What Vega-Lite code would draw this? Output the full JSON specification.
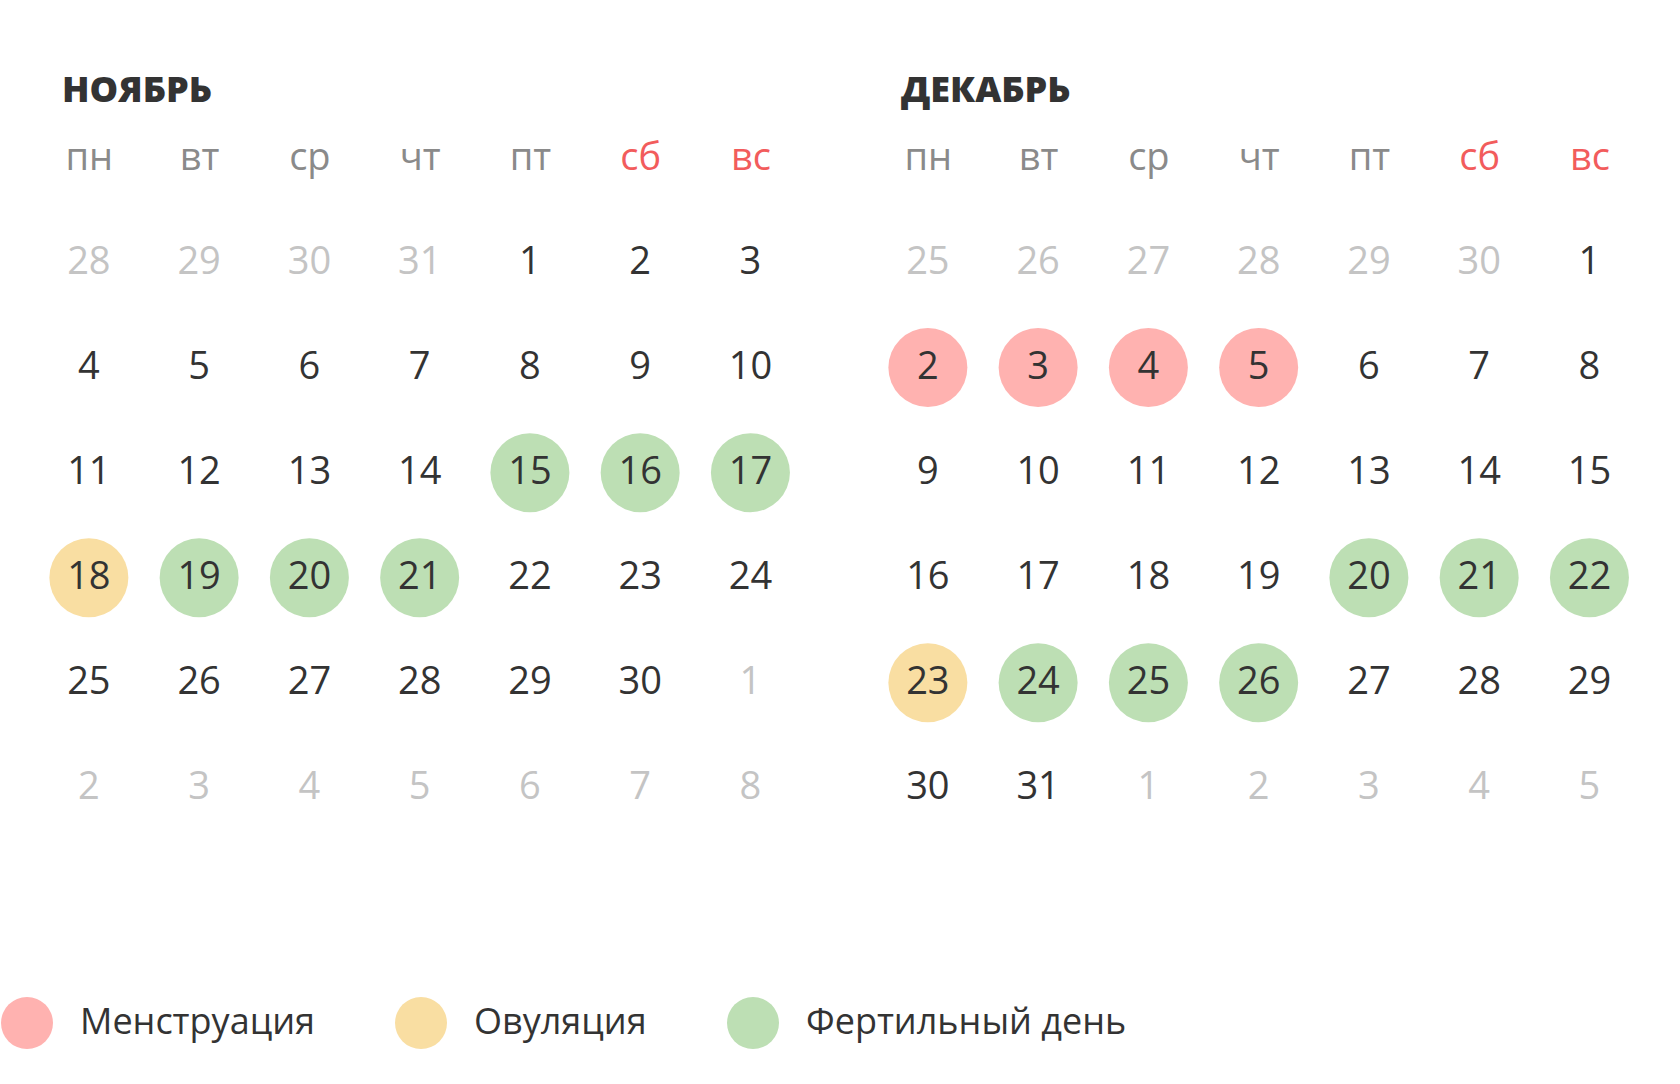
{
  "$schema": "https://vega.github.io/schema/vega-lite/v6.json",
  "background": "white",
  "padding": {"left": 1, "top": 73, "right": 0, "bottom": 0},
  "config": {"view": {"stroke": null}, "font": "Open Sans"},
  "data": {"values": [
    {"m":"НОЯБРЬ","w":1,"wd":"пн","d":28,"c":0,"s":""},
    {"m":"НОЯБРЬ","w":1,"wd":"вт","d":29,"c":0,"s":""},
    {"m":"НОЯБРЬ","w":1,"wd":"ср","d":30,"c":0,"s":""},
    {"m":"НОЯБРЬ","w":1,"wd":"чт","d":31,"c":0,"s":""},
    {"m":"НОЯБРЬ","w":1,"wd":"пт","d":1,"c":1,"s":""},
    {"m":"НОЯБРЬ","w":1,"wd":"сб","d":2,"c":1,"s":""},
    {"m":"НОЯБРЬ","w":1,"wd":"вс","d":3,"c":1,"s":""},
    {"m":"НОЯБРЬ","w":2,"wd":"пн","d":4,"c":1,"s":""},
    {"m":"НОЯБРЬ","w":2,"wd":"вт","d":5,"c":1,"s":""},
    {"m":"НОЯБРЬ","w":2,"wd":"ср","d":6,"c":1,"s":""},
    {"m":"НОЯБРЬ","w":2,"wd":"чт","d":7,"c":1,"s":""},
    {"m":"НОЯБРЬ","w":2,"wd":"пт","d":8,"c":1,"s":""},
    {"m":"НОЯБРЬ","w":2,"wd":"сб","d":9,"c":1,"s":""},
    {"m":"НОЯБРЬ","w":2,"wd":"вс","d":10,"c":1,"s":""},
    {"m":"НОЯБРЬ","w":3,"wd":"пн","d":11,"c":1,"s":""},
    {"m":"НОЯБРЬ","w":3,"wd":"вт","d":12,"c":1,"s":""},
    {"m":"НОЯБРЬ","w":3,"wd":"ср","d":13,"c":1,"s":""},
    {"m":"НОЯБРЬ","w":3,"wd":"чт","d":14,"c":1,"s":""},
    {"m":"НОЯБРЬ","w":3,"wd":"пт","d":15,"c":1,"s":"Фертильный день"},
    {"m":"НОЯБРЬ","w":3,"wd":"сб","d":16,"c":1,"s":"Фертильный день"},
    {"m":"НОЯБРЬ","w":3,"wd":"вс","d":17,"c":1,"s":"Фертильный день"},
    {"m":"НОЯБРЬ","w":4,"wd":"пн","d":18,"c":1,"s":"Овуляция"},
    {"m":"НОЯБРЬ","w":4,"wd":"вт","d":19,"c":1,"s":"Фертильный день"},
    {"m":"НОЯБРЬ","w":4,"wd":"ср","d":20,"c":1,"s":"Фертильный день"},
    {"m":"НОЯБРЬ","w":4,"wd":"чт","d":21,"c":1,"s":"Фертильный день"},
    {"m":"НОЯБРЬ","w":4,"wd":"пт","d":22,"c":1,"s":""},
    {"m":"НОЯБРЬ","w":4,"wd":"сб","d":23,"c":1,"s":""},
    {"m":"НОЯБРЬ","w":4,"wd":"вс","d":24,"c":1,"s":""},
    {"m":"НОЯБРЬ","w":5,"wd":"пн","d":25,"c":1,"s":""},
    {"m":"НОЯБРЬ","w":5,"wd":"вт","d":26,"c":1,"s":""},
    {"m":"НОЯБРЬ","w":5,"wd":"ср","d":27,"c":1,"s":""},
    {"m":"НОЯБРЬ","w":5,"wd":"чт","d":28,"c":1,"s":""},
    {"m":"НОЯБРЬ","w":5,"wd":"пт","d":29,"c":1,"s":""},
    {"m":"НОЯБРЬ","w":5,"wd":"сб","d":30,"c":1,"s":""},
    {"m":"НОЯБРЬ","w":5,"wd":"вс","d":1,"c":0,"s":""},
    {"m":"НОЯБРЬ","w":6,"wd":"пн","d":2,"c":0,"s":""},
    {"m":"НОЯБРЬ","w":6,"wd":"вт","d":3,"c":0,"s":""},
    {"m":"НОЯБРЬ","w":6,"wd":"ср","d":4,"c":0,"s":""},
    {"m":"НОЯБРЬ","w":6,"wd":"чт","d":5,"c":0,"s":""},
    {"m":"НОЯБРЬ","w":6,"wd":"пт","d":6,"c":0,"s":""},
    {"m":"НОЯБРЬ","w":6,"wd":"сб","d":7,"c":0,"s":""},
    {"m":"НОЯБРЬ","w":6,"wd":"вс","d":8,"c":0,"s":""},
    {"m":"ДЕКАБРЬ","w":1,"wd":"пн","d":25,"c":0,"s":""},
    {"m":"ДЕКАБРЬ","w":1,"wd":"вт","d":26,"c":0,"s":""},
    {"m":"ДЕКАБРЬ","w":1,"wd":"ср","d":27,"c":0,"s":""},
    {"m":"ДЕКАБРЬ","w":1,"wd":"чт","d":28,"c":0,"s":""},
    {"m":"ДЕКАБРЬ","w":1,"wd":"пт","d":29,"c":0,"s":""},
    {"m":"ДЕКАБРЬ","w":1,"wd":"сб","d":30,"c":0,"s":""},
    {"m":"ДЕКАБРЬ","w":1,"wd":"вс","d":1,"c":1,"s":""},
    {"m":"ДЕКАБРЬ","w":2,"wd":"пн","d":2,"c":1,"s":"Менструация"},
    {"m":"ДЕКАБРЬ","w":2,"wd":"вт","d":3,"c":1,"s":"Менструация"},
    {"m":"ДЕКАБРЬ","w":2,"wd":"ср","d":4,"c":1,"s":"Менструация"},
    {"m":"ДЕКАБРЬ","w":2,"wd":"чт","d":5,"c":1,"s":"Менструация"},
    {"m":"ДЕКАБРЬ","w":2,"wd":"пт","d":6,"c":1,"s":""},
    {"m":"ДЕКАБРЬ","w":2,"wd":"сб","d":7,"c":1,"s":""},
    {"m":"ДЕКАБРЬ","w":2,"wd":"вс","d":8,"c":1,"s":""},
    {"m":"ДЕКАБРЬ","w":3,"wd":"пн","d":9,"c":1,"s":""},
    {"m":"ДЕКАБРЬ","w":3,"wd":"вт","d":10,"c":1,"s":""},
    {"m":"ДЕКАБРЬ","w":3,"wd":"ср","d":11,"c":1,"s":""},
    {"m":"ДЕКАБРЬ","w":3,"wd":"чт","d":12,"c":1,"s":""},
    {"m":"ДЕКАБРЬ","w":3,"wd":"пт","d":13,"c":1,"s":""},
    {"m":"ДЕКАБРЬ","w":3,"wd":"сб","d":14,"c":1,"s":""},
    {"m":"ДЕКАБРЬ","w":3,"wd":"вс","d":15,"c":1,"s":""},
    {"m":"ДЕКАБРЬ","w":4,"wd":"пн","d":16,"c":1,"s":""},
    {"m":"ДЕКАБРЬ","w":4,"wd":"вт","d":17,"c":1,"s":""},
    {"m":"ДЕКАБРЬ","w":4,"wd":"ср","d":18,"c":1,"s":""},
    {"m":"ДЕКАБРЬ","w":4,"wd":"чт","d":19,"c":1,"s":""},
    {"m":"ДЕКАБРЬ","w":4,"wd":"пт","d":20,"c":1,"s":"Фертильный день"},
    {"m":"ДЕКАБРЬ","w":4,"wd":"сб","d":21,"c":1,"s":"Фертильный день"},
    {"m":"ДЕКАБРЬ","w":4,"wd":"вс","d":22,"c":1,"s":"Фертильный день"},
    {"m":"ДЕКАБРЬ","w":5,"wd":"пн","d":23,"c":1,"s":"Овуляция"},
    {"m":"ДЕКАБРЬ","w":5,"wd":"вт","d":24,"c":1,"s":"Фертильный день"},
    {"m":"ДЕКАБРЬ","w":5,"wd":"ср","d":25,"c":1,"s":"Фертильный день"},
    {"m":"ДЕКАБРЬ","w":5,"wd":"чт","d":26,"c":1,"s":"Фертильный день"},
    {"m":"ДЕКАБРЬ","w":5,"wd":"пт","d":27,"c":1,"s":""},
    {"m":"ДЕКАБРЬ","w":5,"wd":"сб","d":28,"c":1,"s":""},
    {"m":"ДЕКАБРЬ","w":5,"wd":"вс","d":29,"c":1,"s":""},
    {"m":"ДЕКАБРЬ","w":6,"wd":"пн","d":30,"c":1,"s":""},
    {"m":"ДЕКАБРЬ","w":6,"wd":"вт","d":31,"c":1,"s":""},
    {"m":"ДЕКАБРЬ","w":6,"wd":"ср","d":1,"c":0,"s":""},
    {"m":"ДЕКАБРЬ","w":6,"wd":"чт","d":2,"c":0,"s":""},
    {"m":"ДЕКАБРЬ","w":6,"wd":"пт","d":3,"c":0,"s":""},
    {"m":"ДЕКАБРЬ","w":6,"wd":"сб","d":4,"c":0,"s":""},
    {"m":"ДЕКАБРЬ","w":6,"wd":"вс","d":5,"c":0,"s":""}
  ]},
  "spacing": 98,
  "facet": {
    "column": {
      "field": "m", "type": "nominal", "sort": ["НОЯБРЬ", "ДЕКАБРЬ"], "title": null,
      "header": {"labelAnchor": "start", "labelAlign": "left", "labelFontSize": 36, "labelFontWeight": 800, "labelColor": "#333333", "labelPadding": 29, "labelFont": "Open Sans"}
    }
  },
  "spec": {
    "width": 715.3,
    "height": 630.4,
    "encoding": {
      "x": {
        "field": "wd", "type": "nominal", "sort": ["пн","вт","ср","чт","пт","сб","вс"],
        "scale": {"type": "point", "domain": ["пн","вт","ср","чт","пт","сб","вс"], "padding": 0.2437},
        "axis": {
          "orient": "top", "title": null, "domain": false, "ticks": false, "tickSize": 0, "grid": false,
          "labelAngle": 0, "labelPadding": 52, "labelBaseline": "middle", "labelFontSize": 38, "labelFont": "Open Sans",
          "labelColor": {"condition": {"test": "datum.value == 'сб' || datum.value == 'вс'", "value": "#f25c5c"}, "value": "#8a8a8a"}
        }
      },
      "y": {"field": "w", "type": "ordinal", "scale": {"domain": [1,2,3,4,5,6], "paddingInner": 0, "paddingOuter": 0}, "axis": null}
    },
    "layer": [
      {
        "transform": [{"filter": "datum.s != ''"}],
        "mark": {"type": "point", "filled": true, "opacity": 1, "size": 6241, "strokeWidth": 0},
        "encoding": {
          "color": {
            "field": "s", "type": "nominal",
            "scale": {"domain": ["Менструация", "Овуляция", "Фертильный день"], "range": ["#ffb2b0", "#f9dea2", "#bddfb4"]},
            "legend": {
              "orient": "none", "legendX": -61, "legendY": 787, "direction": "horizontal", "title": null,
              "symbolType": "circle", "symbolSize": 2704, "symbolStrokeWidth": 0, "symbolOpacity": 1,
              "labelFontSize": 36, "labelColor": "#333333", "labelFont": "Open Sans", "labelOffset": 27,
              "columnPadding": 80, "labelLimit": 0, "padding": 0
            }
          }
        }
      },
      {
        "mark": {"type": "text", "fontSize": 38, "font": "Open Sans"},
        "encoding": {
          "text": {"field": "d", "type": "nominal"},
          "color": {"condition": {"test": "datum.c == 1", "value": "#333333"}, "value": "#c4c4c4"}
        }
      }
    ]
  }
}
